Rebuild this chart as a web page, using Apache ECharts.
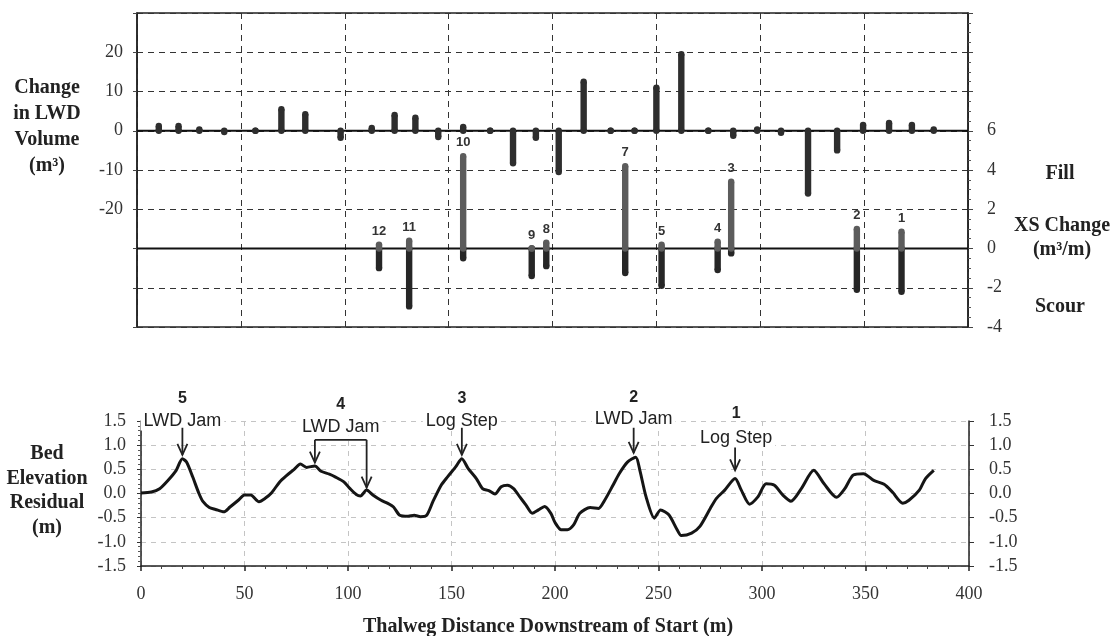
<!DOCTYPE html>
<html>
<head>
<meta charset="utf-8">
<script src="https://cdn.jsdelivr.net/npm/echarts@6/dist/echarts.min.js"></script>
<style>
html,body{margin:0;padding:0;background:#fff;}
#c{width:1116px;height:636px;}
</style>
</head>
<body>
<div id="c"></div>
<script>
// ---- Top panel: change in LWD volume (left axis) ----
var lwdX   = [10.5, 20, 30, 42, 57, 69.5, 81, 98, 113, 124, 134, 145, 157, 170, 181, 192, 203, 215, 228, 239.5, 250, 262, 275, 287, 298.5, 310, 323, 337, 349.5, 362, 373, 383.5];
var lwdVol = [1.2, 1.2, 0.3, -0.3, 0, 5.5, 4.2, -1.8, 0.7, 4.0, 3.3, -1.6, 1.0, 0, -8.3, -1.8, -10.5, 12.5, 0, 0, 11, 19.5, 0, -1.3, 0.3, -0.5, -16, -5, 1.5, 2, 1.5, 0.3];

// ---- Top panel: cross-section change (right axis) ----
var xsX     = [116.5, 131, 157, 190, 197, 235, 252.5, 279.5, 286, 346.5, 368];
var xsLabel = ['12', '11', '10', '9', '8', '7', '5', '4', '3', '2', '1'];
var xsFill  = [0.2, 0.4, 4.7, 0, 0.3, 4.2, 0.2, 0.35, 3.4, 1.0, 0.85];
var xsScour = [-1.0, -2.95, -0.5, -1.4, -0.9, -1.25, -1.9, -1.1, -0.25, -2.1, -2.2];

// ---- Bottom panel: bed elevation residual ----
var bedX = [0,5,9,13,17,20,22,25,28,30,33,36,40,43,47,50,53,57,60,63,67,70,74,77,80,84,87,91,94,98,101,104,106,109,112,116,119,122,125,129,132,135,138,141,145,148,152,155,158,162,165,168,171,174,177,180,183,186,189,192,195,198,200,203,206,209,212,217,221,224,228,231,235,239,241,244,248,251,255,259,261,266,270,275,278,282,287,290,294,298,302,306,310,314,319,325,330,336,340,344,349,354,359,363,368,371,376,379,383];
var bedY = [0.01,0.03,0.1,0.27,0.48,0.72,0.65,0.34,0.0,-0.17,-0.29,-0.33,-0.38,-0.28,-0.14,-0.03,-0.03,-0.17,-0.1,0.01,0.24,0.36,0.5,0.61,0.54,0.57,0.46,0.4,0.34,0.24,0.1,-0.02,-0.05,0.07,-0.03,-0.14,-0.2,-0.28,-0.45,-0.47,-0.45,-0.48,-0.45,-0.17,0.17,0.34,0.55,0.72,0.52,0.31,0.1,0.06,-0.01,0.14,0.17,0.1,-0.07,-0.24,-0.41,-0.34,-0.27,-0.41,-0.6,-0.75,-0.75,-0.65,-0.41,-0.29,-0.31,-0.14,0.17,0.41,0.65,0.75,0.48,-0.07,-0.51,-0.34,-0.44,-0.75,-0.87,-0.82,-0.68,-0.31,-0.1,0.07,0.31,0.07,-0.22,-0.07,0.2,0.17,-0.03,-0.16,0.1,0.48,0.2,-0.08,0.1,0.38,0.41,0.27,0.19,0.03,-0.2,-0.14,0.07,0.31,0.48];

// ---- Bottom panel annotations ----
var annNum    = ['5', '4', '3', '2', '1'];
var annText   = ['LWD Jam', 'LWD Jam', 'Log Step', 'LWD Jam', 'Log Step'];
var annX      = [20, 96.5, 155, 238, 287.5];
var annNumY   = [1.97, 1.84, 1.97, 1.99, 1.66];
var annTextY  = [1.49, 1.38, 1.49, 1.54, 1.15];
var arrowX    = [20, 84, 109, 155, 238, 287];
var arrowTop  = [1.36, 1.11, 1.11, 1.36, 1.36, 0.95];
var arrowTip  = [0.80, 0.64, 0.12, 0.80, 0.84, 0.48];
var bracketX  = [84, 109];
var bracketY  = 1.11;

var SERIF = '"Liberation Serif", "Times New Roman", serif';
var SANS = '"Liberation Sans", Arial, sans-serif';

function stickRenderer(color, withLabels, labels) {
  return function (params, api) {
    var x = api.value(0), v = api.value(1);
    var p0 = api.coord([x, 0]);
    var p1 = api.coord([x, v]);
    var r = 3.2;
    var children = [
      {type: 'line', shape: {x1: p0[0], y1: p0[1], x2: p1[0], y2: p1[1]},
       style: {stroke: color, lineWidth: 6.4, lineCap: 'butt'}},
      {type: 'circle', shape: {cx: p1[0], cy: p1[1], r: r}, style: {fill: color}},
      {type: 'circle', shape: {cx: p0[0], cy: p0[1], r: r}, style: {fill: color}}
    ];
    if (withLabels) {
      children.push({type: 'text', x: p1[0], y: p1[1] - 7,
        style: {text: labels[params.dataIndex], font: 'bold 13px ' + SANS, fill: '#333',
                align: 'center', verticalAlign: 'bottom'}});
    }
    return {type: 'group', children: children};
  };
}

var lwdData = lwdX.map(function (x, i) { return [x, lwdVol[i]]; });
var fillData = xsX.map(function (x, i) { return [x, xsFill[i]]; });
var scourData = xsX.map(function (x, i) { return [x, xsScour[i]]; });
var bedData = bedX.map(function (x, i) { return [x, bedY[i]]; });
var annData = annX.map(function (x, i) { return [x, annNumY[i], annTextY[i], i]; });
var arrowData = arrowX.map(function (x, i) { return [x, arrowTop[i], arrowTip[i]]; });

var chart = echarts.init(document.getElementById('c'), null, {renderer: 'canvas'});

var tickFont = {color: '#333', fontFamily: SERIF, fontSize: 18};

var option = {
  animation: false,
  backgroundColor: '#fff',
  grid: [
    {left: 137, right: 148, top: 13, bottom: 309, show: true, borderColor: '#222', borderWidth: 1.5, backgroundColor: 'transparent'},
    {left: 141, right: 147, top: 421, bottom: 70}
  ],
  xAxis: [
    {gridIndex: 0, type: 'value', min: 0, max: 400, interval: 50,
     axisLine: {show: false}, axisTick: {show: false}, axisLabel: {show: false},
     splitLine: {show: true, lineStyle: {color: '#333', type: [6, 5], width: 1}}},
    {gridIndex: 1, type: 'value', min: 0, max: 400, interval: 50,
     axisLine: {show: true, onZero: false, lineStyle: {color: '#222', width: 1.5}},
     axisTick: {show: true, length: 5, lineStyle: {color: '#222', width: 1.5}},
     minorTick: {show: true, splitNumber: 5, length: 3, lineStyle: {color: '#444'}},
     axisLabel: Object.assign({margin: 19}, tickFont),
     splitLine: {show: true, lineStyle: {color: '#c4c4c4', type: [5, 5], width: 1}}}
  ],
  yAxis: [
    {gridIndex: 0, type: 'value', min: -50, max: 30, interval: 10, position: 'left',
     axisLine: {show: true, lineStyle: {color: '#222', width: 1.5}},
     axisTick: {show: true, length: 4, lineStyle: {color: '#444'}},
     axisLabel: Object.assign({margin: 14,
       formatter: function (v) { return (v >= -20 && v <= 20) ? String(v) : ''; }}, tickFont),
     splitLine: {show: true, lineStyle: {color: '#333', type: [6, 5], width: 1}}},
    {gridIndex: 0, type: 'value', min: -4, max: 12, interval: 2, position: 'right',
     axisLine: {show: true, lineStyle: {color: '#222', width: 1.5}},
     axisTick: {show: true, length: 5, lineStyle: {color: '#444'}},
     minorTick: {show: true, splitNumber: 4, length: 3, lineStyle: {color: '#555'}},
     axisLabel: Object.assign({margin: 19,
       formatter: function (v) { return (v >= -4 && v <= 6) ? String(v) : ''; }}, tickFont),
     splitLine: {show: false}},
    {gridIndex: 1, type: 'value', min: -1.5, max: 1.5, interval: 0.5, position: 'left',
     axisLine: {show: true, lineStyle: {color: '#222', width: 1.5}},
     axisTick: {show: true, length: 4, lineStyle: {color: '#333'}},
     minorTick: {show: true, splitNumber: 5, length: 3, lineStyle: {color: '#555'}},
     axisLabel: Object.assign({margin: 15,
       formatter: function (v) { return v.toFixed(1); }}, tickFont),
     splitLine: {show: true, lineStyle: {color: '#c4c4c4', type: [5, 5], width: 1}}},
    {gridIndex: 1, type: 'value', min: -1.5, max: 1.5, interval: 0.5, position: 'right',
     axisLine: {show: true, lineStyle: {color: '#222', width: 1.5}},
     axisTick: {show: true, length: 5, lineStyle: {color: '#333'}},
     axisLabel: Object.assign({margin: 20,
       formatter: function (v) { return v.toFixed(1); }}, tickFont),
     splitLine: {show: false}}
  ],
  series: [
    {type: 'line', xAxisIndex: 0, yAxisIndex: 0, data: [[0, 0], [400, 0]], symbol: 'none', z: 2,
     lineStyle: {color: '#111', width: 2.2}, silent: true},
    {type: 'line', xAxisIndex: 0, yAxisIndex: 1, data: [[0, 0], [400, 0]], symbol: 'none', z: 2,
     lineStyle: {color: '#111', width: 2.2}, silent: true},
    {type: 'custom', name: 'LWD', xAxisIndex: 0, yAxisIndex: 0, z: 3, clip: false,
     renderItem: stickRenderer('#2e2e2e', false), data: lwdData},
    {type: 'custom', name: 'Scour', xAxisIndex: 0, yAxisIndex: 1, z: 3, clip: false,
     renderItem: stickRenderer('#262626', false), data: scourData},
    {type: 'custom', name: 'Fill', xAxisIndex: 0, yAxisIndex: 1, z: 4, clip: false,
     renderItem: stickRenderer('#5c5c5c', true, xsLabel), data: fillData},
    {type: 'line', xAxisIndex: 1, yAxisIndex: 2, data: bedData, symbol: 'none', smooth: 0.25,
     lineStyle: {color: '#151515', width: 3}, z: 5},
    {type: 'custom', xAxisIndex: 1, yAxisIndex: 2, z: 6, clip: false, silent: true,
     data: annData,
     renderItem: function (params, api) {
       var i = api.value(3);
       var pn = api.coord([api.value(0), api.value(1)]);
       var pt = api.coord([api.value(0), api.value(2)]);
       return {type: 'group', children: [
         {type: 'text', x: pn[0], y: pn[1], style: {text: annNum[i], font: 'bold 16px ' + SANS, fill: '#222', align: 'center', verticalAlign: 'middle'}},
         {type: 'text', x: pt[0], y: pt[1], style: {text: annText[i], font: '18px ' + SANS, fill: '#222', align: 'center', verticalAlign: 'middle', backgroundColor: '#fff', padding: [0, 3]}}
       ]};
     }},
    {type: 'custom', xAxisIndex: 1, yAxisIndex: 2, z: 7, clip: false, silent: true,
     data: arrowData,
     renderItem: function (params, api) {
       var a = api.coord([api.value(0), api.value(1)]);
       var b = api.coord([api.value(0), api.value(2)]);
       return {type: 'group', children: [
         {type: 'line', shape: {x1: a[0], y1: a[1], x2: b[0], y2: b[1]}, style: {stroke: '#222', lineWidth: 1.8}},
         {type: 'polyline', shape: {points: [[b[0] - 5, b[1] - 11], [b[0], b[1]], [b[0] + 5, b[1] - 11]]}, style: {stroke: '#222', lineWidth: 1.8, fill: null}}
       ]};
     }},
    {type: 'line', xAxisIndex: 1, yAxisIndex: 2, data: [[bracketX[0], bracketY], [bracketX[1], bracketY]],
     symbol: 'none', clip: false, lineStyle: {color: '#222', width: 1.8}, z: 7, silent: true}
  ],
  graphic: [
    {type: 'text', style: {text: 'Change\nin LWD\nVolume\n(m³)', x: 47, y: 75, font: 'bold 20px ' + SERIF, fill: '#222', align: 'center', lineHeight: 26}},
    {type: 'text', style: {text: 'Fill', x: 1060, y: 174, font: 'bold 20px ' + SERIF, fill: '#222', align: 'center', verticalAlign: 'middle'}},
    {type: 'text', style: {text: 'XS Change', x: 1062, y: 226, font: 'bold 20px ' + SERIF, fill: '#222', align: 'center', verticalAlign: 'middle'}},
    {type: 'text', style: {text: '(m³/m)', x: 1062, y: 250, font: 'bold 20px ' + SERIF, fill: '#222', align: 'center', verticalAlign: 'middle'}},
    {type: 'text', style: {text: 'Scour', x: 1060, y: 307, font: 'bold 20px ' + SERIF, fill: '#222', align: 'center', verticalAlign: 'middle'}},
    {type: 'text', style: {text: 'Bed\nElevation\nResidual\n(m)', x: 47, y: 442, font: 'bold 20px ' + SERIF, fill: '#222', align: 'center', lineHeight: 24.5}},
    {type: 'text', style: {text: 'Thalweg Distance Downstream of Start (m)', x: 548, y: 627, font: 'bold 20px ' + SERIF, fill: '#222', align: 'center', verticalAlign: 'middle'}}
  ]
};
chart.setOption(option);
</script>
</body>
</html>
